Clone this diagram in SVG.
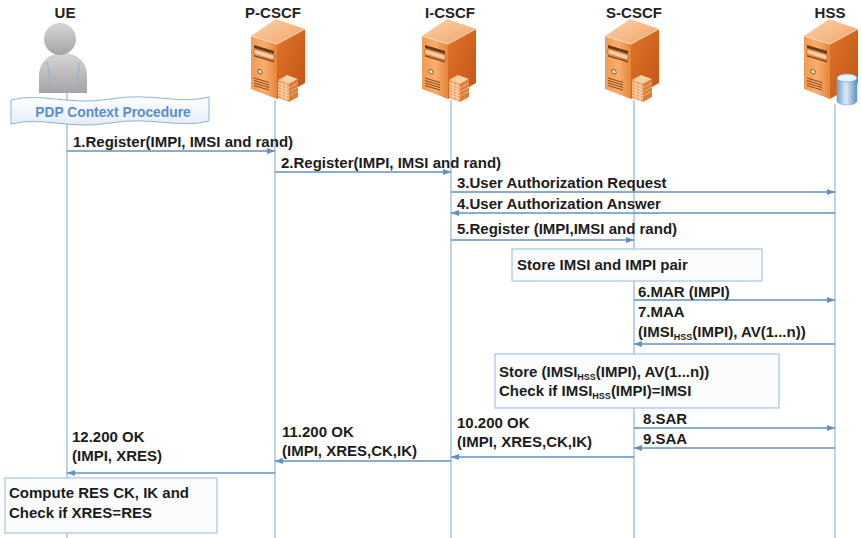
<svg xmlns="http://www.w3.org/2000/svg" xmlns:xlink="http://www.w3.org/1999/xlink" width="862" height="538" viewBox="0 0 862 538">
  <style>
    .hdr { font-family: "Liberation Sans", Arial, sans-serif; font-weight: bold; font-size: 15px; fill: #222; text-anchor: middle; }
    .lbl { font-family: "Liberation Sans", Arial, sans-serif; font-weight: bold; font-size: 15px; fill: #1c1c1c; }
    .sub { font-size: 9px; }
    .life { stroke: #8fb5df; stroke-width: 1.2; fill: none; }
    .msg { stroke: #5f90c7; stroke-width: 1.3; fill: none; marker-end: url(#ah); }
    .note { fill: #fbfcfe; stroke: #a9c4e2; stroke-width: 1.2; }
    .pdp { font-family: "Liberation Sans", Arial, sans-serif; font-weight: bold; font-size: 13.8px; fill: #5d8fc8; text-anchor: middle; }
  </style>
  <defs>
    <marker id="ah" markerWidth="8" markerHeight="6" refX="8" refY="3" orient="auto" markerUnits="userSpaceOnUse">
      <path d="M0,0 L8,3 L0,6 Z" fill="#5f90c7"/>
    </marker>
    <linearGradient id="gTop" x1="0" y1="0" x2="1" y2="1">
      <stop offset="0" stop-color="#fbd2ac"/>
      <stop offset="1" stop-color="#f2a465"/>
    </linearGradient>
    <linearGradient id="gLeft" x1="0" y1="0" x2="1" y2="0">
      <stop offset="0" stop-color="#f39a52"/>
      <stop offset="0.5" stop-color="#f7ae6e"/>
      <stop offset="1" stop-color="#e8843a"/>
    </linearGradient>
    <linearGradient id="gRight" x1="0" y1="0" x2="1" y2="1">
      <stop offset="0" stop-color="#e0752a"/>
      <stop offset="1" stop-color="#c25416"/>
    </linearGradient>
    <linearGradient id="gCyl" x1="0" y1="0" x2="1" y2="0">
      <stop offset="0" stop-color="#6d9fd0"/>
      <stop offset="0.45" stop-color="#dcecfa"/>
      <stop offset="1" stop-color="#5b8fc4"/>
    </linearGradient>
    <linearGradient id="gPerson" x1="0" y1="0" x2="0" y2="1">
      <stop offset="0" stop-color="#d6d6d6"/>
      <stop offset="1" stop-color="#a4a4a4"/>
    </linearGradient>
    <linearGradient id="gFlag" x1="0" y1="0" x2="0" y2="1">
      <stop offset="0" stop-color="#ffffff"/>
      <stop offset="1" stop-color="#e2edf8"/>
    </linearGradient>

    <!-- orange tower server body -->
    <g id="tower">
      <polygon points="-30,36 -5,19 24,29 -4,44" fill="url(#gTop)"/>
      <polygon points="-30,36 -4,44 -4,99 -30,89" fill="url(#gLeft)"/>
      <polygon points="-4,44 24,29 24,83 -4,99" fill="url(#gRight)"/>
      <polyline points="-30,36 -4,44 24,29" fill="none" stroke="#fde3c8" stroke-width="0.8"/>
      <g transform="translate(-30,36) skewY(17)">
        <rect x="3" y="8" width="20" height="3" fill="#6e3810"/>
        <rect x="3" y="12" width="20" height="5" fill="#f8cda4" stroke="#9a4a12" stroke-width="0.5"/>
        <rect x="3" y="18" width="20" height="1.5" fill="#8a4515"/>
        <circle cx="9" cy="33" r="2.2" fill="#fff1c2" stroke="#7a3a0e" stroke-width="0.8"/>
        <g stroke="#8a4515" stroke-width="1">
          <line x1="3" y1="41" x2="18" y2="41"/>
          <line x1="3" y1="43.5" x2="18" y2="43.5"/>
          <line x1="3" y1="46" x2="18" y2="46"/>
          <line x1="3" y1="48.5" x2="18" y2="48.5"/>
        </g>
      </g>
    </g>

    <!-- firewall brick block -->
    <g id="brick">
      <polygon points="-3,80 6,75 17,79 8,84" fill="#f8d0a8"/>
      <polygon points="-3,80 8,84 8,102 -3,98" fill="#f2a061"/>
      <polygon points="8,84 17,79 17,97 8,102" fill="#dd7f3c"/>
      <g transform="translate(-3,80) skewY(20)" stroke="#fde2c6" stroke-width="0.8">
        <line x1="0" y1="3" x2="11" y2="3"/>
        <line x1="0" y1="6" x2="11" y2="6"/>
        <line x1="0" y1="9" x2="11" y2="9"/>
        <line x1="0" y1="12" x2="11" y2="12"/>
        <line x1="0" y1="15" x2="11" y2="15"/>
        <line x1="4" y1="0" x2="4" y2="18"/>
        <line x1="8" y1="0" x2="8" y2="18"/>
      </g>
      <g transform="translate(8,84) skewY(-29)" stroke="#f6b886" stroke-width="0.7">
        <line x1="0" y1="4" x2="9" y2="4"/>
        <line x1="0" y1="8" x2="9" y2="8"/>
        <line x1="0" y1="12" x2="9" y2="12"/>
      </g>
    </g>
  </defs>

  <rect width="862" height="538" fill="#ffffff"/>

  <!-- participants -->
  <g id="ue">
    <text class="hdr" x="65" y="18">UE</text>
    <line class="life" x1="67" y1="90" x2="67" y2="538"/>
    <path d="M39,93 L39,76 C39,61 50,53 63,53 C76,53 87,61 87,76 L87,93 Z" fill="url(#gPerson)"/>
    <path d="M47,62 C50,72 50,82 48,92 M80,62 C77,72 77,82 79,92" fill="none" stroke="#8ab0d8" stroke-width="0.9"/>
    <circle cx="60" cy="39" r="16" fill="url(#gPerson)"/>
    <g id="pdp">
      <path d="M11,100 C40,92 70,106 110,99 C150,92 180,105 209,97 L209,121 C180,129 150,116 110,123 C70,130 40,116 11,124 Z" fill="url(#gFlag)" stroke="#8fb2d8" stroke-width="1"/>
      <text class="pdp" x="113" y="117">PDP Context Procedure</text>
    </g>
  </g>

  <g id="p-cscf">
    <text class="hdr" x="273" y="18">P-CSCF</text>
    <line class="life" x1="275" y1="100" x2="275" y2="538"/>
    <use xlink:href="#tower" x="281" y="0"/>
    <use xlink:href="#brick" x="281" y="0"/>
  </g>

  <g id="i-cscf">
    <text class="hdr" x="450" y="18">I-CSCF</text>
    <line class="life" x1="451" y1="100" x2="451" y2="538"/>
    <use xlink:href="#tower" x="452" y="0"/>
    <use xlink:href="#brick" x="452" y="0"/>
  </g>

  <g id="s-cscf">
    <text class="hdr" x="634" y="18">S-CSCF</text>
    <line class="life" x1="634" y1="100" x2="634" y2="538"/>
    <use xlink:href="#tower" x="635" y="0"/>
    <use xlink:href="#brick" x="635" y="0"/>
  </g>

  <g id="hss">
    <text class="hdr" x="830" y="18">HSS</text>
    <line class="life" x1="835" y1="104" x2="835" y2="538"/>
    <use xlink:href="#tower" x="834" y="0"/>
    <path d="M837,78 L837,101 A10,4 0 0 0 857,101 L857,78 Z" fill="url(#gCyl)" stroke="#7aa9d6" stroke-width="0.6"/>
    <ellipse cx="847" cy="78" rx="10" ry="4" fill="#eaf4fd" stroke="#7aa9d6" stroke-width="0.8"/>
  </g>

  <!-- messages -->
  <g id="connectors">
    <line class="msg" x1="67" y1="151" x2="275" y2="151"/>
    <text class="lbl" x="73" y="147">1.Register(IMPI, IMSI and rand)</text>

    <line class="msg" x1="275" y1="172" x2="451" y2="172"/>
    <text class="lbl" x="281" y="168">2.Register(IMPI, IMSI and rand)</text>

    <line class="msg" x1="451" y1="192" x2="835" y2="192"/>
    <text class="lbl" x="457" y="188">3.User Authorization Request</text>

    <line class="msg" x1="835" y1="213" x2="451" y2="213"/>
    <text class="lbl" x="457" y="209">4.User Authorization Answer</text>

    <line class="msg" x1="451" y1="240" x2="634" y2="240"/>
    <text class="lbl" x="457" y="234">5.Register (IMPI,IMSI and rand)</text>

    <line class="msg" x1="634" y1="300" x2="835" y2="300"/>
    <text class="lbl" x="638" y="297">6.MAR (IMPI)</text>

    <line class="msg" x1="835" y1="344" x2="634" y2="344"/>
    <text class="lbl" x="638" y="317">7.MAA</text>
    <text class="lbl" x="638" y="337">(IMSI<tspan class="sub" dy="3">HSS</tspan><tspan dy="-3">(IMPI), AV(1...n))</tspan></text>

    <line class="msg" x1="634" y1="428" x2="835" y2="428"/>
    <text class="lbl" x="643" y="424">8.SAR</text>

    <line class="msg" x1="835" y1="448" x2="634" y2="448"/>
    <text class="lbl" x="643" y="444">9.SAA</text>

    <line class="msg" x1="634" y1="457" x2="451" y2="457"/>
    <text class="lbl" x="457" y="428">10.200 OK</text>
    <text class="lbl" x="457" y="447">(IMPI, XRES,CK,IK)</text>

    <line class="msg" x1="451" y1="461" x2="275" y2="461"/>
    <text class="lbl" x="282" y="437">11.200 OK</text>
    <text class="lbl" x="282" y="456">(IMPI, XRES,CK,IK)</text>

    <line class="msg" x1="275" y1="473" x2="67" y2="473"/>
    <text class="lbl" x="72" y="442">12.200 OK</text>
    <text class="lbl" x="72" y="461">(IMPI, XRES)</text>
  </g>

  <!-- processing notes -->
  <g id="note-store-pair">
    <rect class="note" x="512" y="249" width="250" height="32"/>
    <text class="lbl" x="517" y="270">Store IMSI and IMPI pair</text>
  </g>

  <g id="note-store-av">
    <rect class="note" x="495" y="354" width="284" height="54"/>
    <text class="lbl" x="499" y="377">Store (IMSI<tspan class="sub" dy="3">HSS</tspan><tspan dy="-3">(IMPI), AV(1...n))</tspan></text>
    <text class="lbl" x="499" y="396">Check if IMSI<tspan class="sub" dy="3">HSS</tspan><tspan dy="-3">(IMPI)=IMSI</tspan></text>
  </g>

  <g id="note-compute">
    <rect class="note" x="5" y="478" width="212" height="55"/>
    <text class="lbl" x="9" y="498">Compute RES CK, IK and</text>
    <text class="lbl" x="9" y="518">Check if XRES=RES</text>
  </g>
</svg>
